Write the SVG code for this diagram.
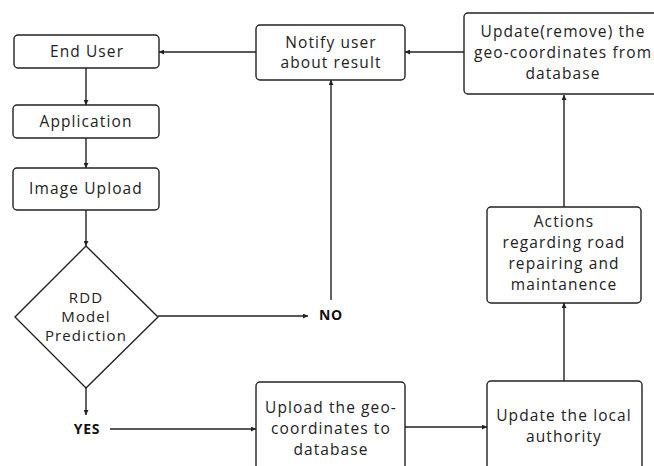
<svg xmlns="http://www.w3.org/2000/svg" width="654" height="466" viewBox="0 0 654 466">
<defs>
<style>
.box{fill:#fff;stroke:#222;stroke-width:1.4}
.t{font-family:"Open Sans","Liberation Sans",sans-serif;font-size:15.5px;letter-spacing:1.1px;fill:#222;text-anchor:middle}
.d{font-size:15px}
.b{font-family:"Open Sans","Liberation Sans",sans-serif;font-size:14px;font-weight:bold;fill:#111;text-anchor:middle;letter-spacing:0.8px}
.c{fill:none;stroke:#222;stroke-width:1.4}
</style>
<marker id="ah" viewBox="0 0 8 8" refX="8" refY="4" markerWidth="5" markerHeight="5" orient="auto" markerUnits="userSpaceOnUse">
<path d="M0,0 L8,4 L0,8 z" fill="#222"/>
</marker>
</defs>
<rect width="654" height="466" fill="#fff"/>
<g id="connectors">
<path class="c" d="M86,68 V105" marker-end="url(#ah)"/>
<path class="c" d="M86,138 V168" marker-end="url(#ah)"/>
<path class="c" d="M86,210 V246" marker-end="url(#ah)"/>
<path class="c" d="M86,388 V415" marker-end="url(#ah)"/>
<path class="c" d="M110,429 H256" marker-end="url(#ah)"/>
<path class="c" d="M158,316 H308" marker-end="url(#ah)"/>
<path class="c" d="M331,300 V80" marker-end="url(#ah)"/>
<path class="c" d="M405,427 H487" marker-end="url(#ah)"/>
<path class="c" d="M564,381 V303" marker-end="url(#ah)"/>
<path class="c" d="M564,207 V95" marker-end="url(#ah)"/>
<path class="c" d="M464,52 H405" marker-end="url(#ah)"/>
<path class="c" d="M256,52 H159" marker-end="url(#ah)"/>
</g>
<g id="end-user">
<rect class="box" x="14" y="35" width="145" height="33" rx="4"/>
<text class="t" x="87" y="57">End User</text>
</g>
<g id="application">
<rect class="box" x="13" y="105" width="146" height="33" rx="4"/>
<text class="t" x="86" y="127">Application</text>
</g>
<g id="image-upload">
<rect class="box" x="13" y="168" width="146" height="42" rx="4"/>
<text class="t" x="86" y="194">Image Upload</text>
</g>
<g id="rdd">
<path class="box" d="M86,246 L158,317 L86,388 L15,317 Z" stroke-linejoin="round"/>
<text class="t d" x="86" y="303">RDD</text>
<text class="t d" x="86" y="322">Model</text>
<text class="t d" x="86" y="341">Prediction</text>
</g>
<g id="yes"><text class="b" x="87" y="434">YES</text></g>
<g id="no"><text class="b" x="331" y="320">NO</text></g>
<g id="notify">
<rect class="box" x="256" y="25" width="149" height="55" rx="4"/>
<text class="t" x="331" y="48">Notify user</text>
<text class="t" x="331" y="68">about result</text>
</g>
<g id="update-remove">
<rect class="box" x="464" y="13" width="200" height="81" rx="4"/>
<text class="t" x="563" y="37">Update(remove) the</text>
<text class="t" x="563" y="58">geo-coordinates from</text>
<text class="t" x="563" y="79">database</text>
</g>
<g id="actions">
<rect class="box" x="487" y="207" width="154" height="96" rx="4"/>
<text class="t" x="564" y="227">Actions</text>
<text class="t" x="564" y="248">regarding road</text>
<text class="t" x="564" y="269">repairing and</text>
<text class="t" x="564" y="290">maintanence</text>
</g>
<g id="upload">
<rect class="box" x="256" y="382" width="149" height="100" rx="4"/>
<text class="t" x="331" y="413">Upload the geo-</text>
<text class="t" x="331" y="434">coordinates to</text>
<text class="t" x="331" y="455">database</text>
</g>
<g id="update-local">
<rect class="box" x="487" y="381" width="155" height="100" rx="4"/>
<text class="t" x="564" y="421">Update the local</text>
<text class="t" x="564" y="442">authority</text>
</g>
</svg>
